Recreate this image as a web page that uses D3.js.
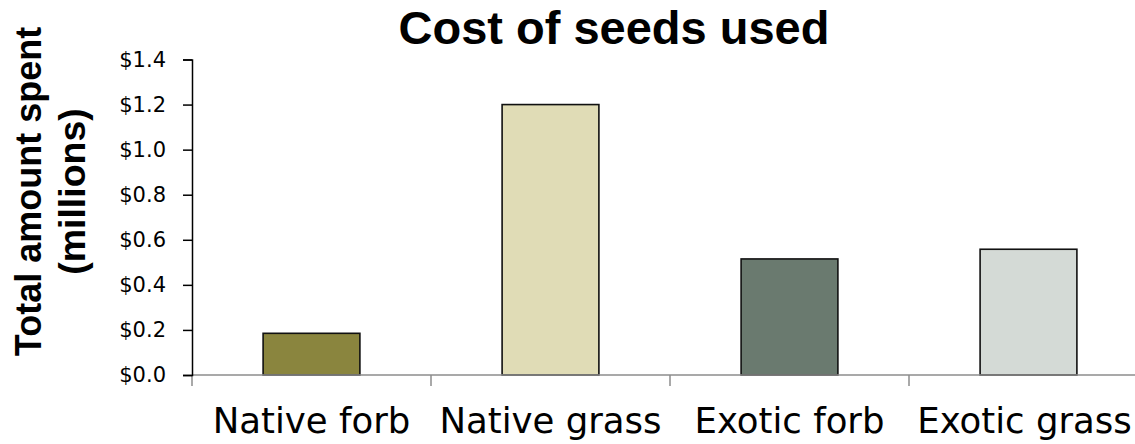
<!DOCTYPE html>
<html>
<head>
<meta charset="utf-8">
<script src="https://cdn.jsdelivr.net/npm/d3@7"></script>
<style>
  html, body { margin: 0; padding: 0; background: #fff; }
  svg { display: block; }
</style>
</head>
<body>
<svg id="chart" width="1135" height="444"></svg>
<script>
// Seed purchase totals, in millions of dollars
const categories = ["Native forb", "Native grass", "Exotic forb", "Exotic grass"];
const spent = [0.185, 1.2, 0.515, 0.558];
const barColors = ["#8a853e", "#e0dcb6", "#6a7a6f", "#d4dad6"];
const yTicks = [0, 0.2, 0.4, 0.6, 0.8, 1.0, 1.2, 1.4];

const svg = d3.select("#chart");
const plotLeft = 192, plotRight = 1148, plotTop = 59.5, plotBottom = 375;

const x = d3.scaleBand().domain(categories).range([plotLeft, plotRight]).paddingInner(0).paddingOuter(0);
const y = d3.scaleLinear().domain([0, 1.4]).range([plotBottom, plotTop]);
const barW = x.bandwidth() * 0.405;

// bars
svg.append("g").selectAll("rect")
  .data(categories)
  .join("rect")
  .attr("x", (d) => x(d) + (x.bandwidth() - barW) / 2)
  .attr("y", (d, i) => y(spent[i]))
  .attr("width", barW)
  .attr("height", (d, i) => plotBottom - y(spent[i]))
  .attr("fill", (d, i) => barColors[i])
  .attr("stroke", "#111")
  .attr("stroke-width", 1.6);

// x axis: gray baseline with ticks between categories
const xAxis = svg.append("g");
xAxis.append("line")
  .attr("x1", plotLeft).attr("x2", plotRight)
  .attr("y1", plotBottom).attr("y2", plotBottom)
  .attr("stroke", "#8c8c8c").attr("stroke-width", 1.5);
xAxis.selectAll("line.sep")
  .data(categories)
  .join("line")
  .attr("class", "sep")
  .attr("x1", (d) => x(d)).attr("x2", (d) => x(d))
  .attr("y1", plotBottom).attr("y2", plotBottom + 11)
  .attr("stroke", "#8c8c8c").attr("stroke-width", 1.5);
xAxis.selectAll("text")
  .data(categories)
  .join("text")
  .attr("x", (d, i) => x(d) + x.bandwidth() / 2 - (i === categories.length - 1 ? 4 : 0))
  .attr("y", 433)
  .attr("text-anchor", "middle")
  .attr("font-family", "DejaVu Sans, sans-serif")
  .attr("font-size", 35.5)
  .attr("fill", "#000")
  .text((d) => d);

// y axis
const yAxis = svg.append("g")
  .attr("transform", `translate(${plotLeft},0)`)
  .call(d3.axisLeft(y).tickValues(yTicks).tickSize(9).tickPadding(17)
    .tickFormat((d) => "$" + d3.format(".1f")(d)));
yAxis.select(".domain").attr("stroke", "#000").attr("stroke-width", 1.5);
yAxis.selectAll(".tick line").attr("stroke", "#000").attr("stroke-width", 1.5);
yAxis.selectAll(".tick text")
  .attr("font-family", "DejaVu Sans, sans-serif")
  .attr("font-size", 21)
  .attr("fill", "#000");

// titles
svg.append("text")
  .attr("x", 614).attr("y", 44)
  .attr("text-anchor", "middle")
  .attr("font-family", "Liberation Sans, Arial, sans-serif")
  .attr("font-weight", "bold")
  .attr("font-size", 47)
  .text("Cost of seeds used");

const yTitle = svg.append("text")
  .attr("transform", "translate(41,191.5) rotate(-90)")
  .attr("text-anchor", "middle")
  .attr("font-family", "Liberation Sans, Arial, sans-serif")
  .attr("font-weight", "bold")
  .attr("font-size", 36);
yTitle.append("tspan").attr("x", 0).attr("dy", 0).text("Total amount spent");
yTitle.append("tspan").attr("x", 0).attr("dy", 43.5).attr("font-size", 37.5).text("(millions)");
</script>
</body>
</html>
